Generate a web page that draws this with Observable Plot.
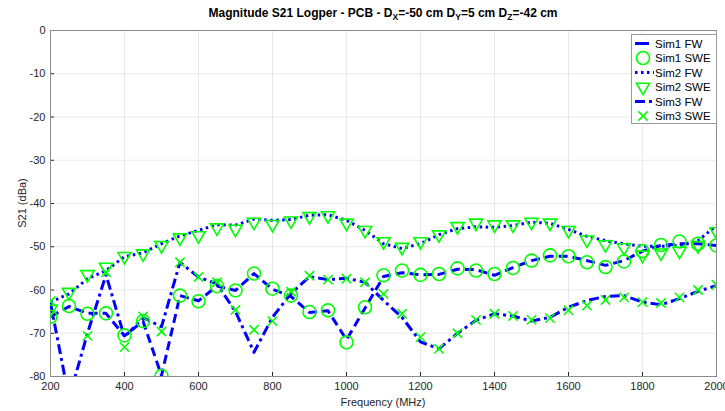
<!DOCTYPE html>
<html>
<head>
<meta charset="utf-8">
<script src="https://cdn.jsdelivr.net/npm/d3@7"></script>
<script src="https://cdn.jsdelivr.net/npm/@observablehq/plot@0.6"></script>
<style>
  body { margin: 0; background: #fff; font-family: "Liberation Sans", Arial, sans-serif; }
  #wrap { position: relative; width: 725px; height: 411px; overflow: hidden; }
  #title { height: 24px; line-height: 26px; padding-left: 41px; text-align: center;
           font-weight: bold; font-size: 12px; color: #000; white-space: nowrap; }
  #title sub { font-size: 8.5px; vertical-align: -3px; line-height: 0; }
  #legend { position: absolute; left: 631px; top: 34px; }
  .axlabel { position: absolute; font-size: 11px; color: #262626; white-space: nowrap; }
  #xlabel { left: 283px; width: 200px; text-align: center; top: 396px; }
  #ylabel { left: 22px; top: 203px; transform: translate(-50%, -50%) rotate(-90deg); }
</style>
</head>
<body>
<div id="wrap">
  <div id="title">Magnitude S21 Logper - PCB - D<sub>X</sub>=-50 cm D<sub>Y</sub>=5 cm D<sub>Z</sub>=-42 cm</div>
  <div id="chart"></div>
  <div class="axlabel" id="xlabel">Frequency (MHz)</div>
  <div class="axlabel" id="ylabel">S21 (dBa)</div>
  <svg id="legend" width="86" height="90"></svg>
</div>
<script>
// Frequency sweep (MHz)
const freq = [200, 250, 300, 350, 400, 450, 500, 550, 600, 650, 700, 750, 800, 850, 900, 950,
  1000, 1050, 1100, 1150, 1200, 1250, 1300, 1350, 1400, 1450, 1500, 1550, 1600, 1650, 1700,
  1750, 1800, 1850, 1900, 1950, 2000];

// S21 (dBa) — full-wave (FW) and SWE results for the three simulations
const sim1FW = [-66.2, -63.8, -65.4, -65.4, -70.6, -67.2, -79.8, -61.3, -62.5, -59.1, -60.1, -56.2,
  -59.8, -61.5, -65.2, -64.8, -71.5, -64.2, -56.9, -56.0, -56.5, -56.4, -55.2, -55.3, -56.6, -54.8,
  -53.2, -52.2, -52.2, -53.2, -54.3, -53.2, -51.0, -49.7, -49.3, -49.3, -49.7];
const sim1SWE = [-66.2, -63.7, -65.5, -65.4, -70.5, -67.2, -79.9, -61.3, -62.6, -59.1, -60.1, -56.2,
  -59.7, -61.3, -65.1, -64.7, -72.1, -64.0, -56.6, -55.5, -56.5, -56.3, -55.0, -55.5, -56.3, -54.9,
  -53.2, -52.0, -52.2, -53.6, -54.7, -53.4, -51.0, -49.6, -48.8, -49.3, -49.7];
const sim2FW = [-62.8, -60.9, -57.4, -55.5, -52.3, -51.4, -49.3, -47.5, -46.2, -44.9, -45.0, -43.6,
  -43.9, -43.7, -42.7, -42.6, -43.9, -46.2, -49.3, -50.4, -49.3, -47.2, -45.8, -45.4, -45.5, -45.1,
  -44.3, -44.6, -46.0, -47.6, -48.6, -49.3, -49.9, -49.9, -49.7, -48.6, -45.1];
const sim2SWE = [-64.4, -60.5, -56.4, -54.7, -52.2, -51.6, -49.7, -47.9, -47.4, -45.6, -45.9, -44.3,
  -44.8, -44.0, -43.0, -42.8, -44.5, -46.2, -48.8, -50.1, -48.8, -47.2, -45.3, -44.5, -44.9, -44.9,
  -44.3, -44.5, -46.2, -48.4, -49.5, -50.2, -51.9, -51.4, -51.0, -49.7, -46.5];
const sim3FW = [-63.0, -85.0, -70.0, -56.5, -70.9, -66.4, -68.5, -53.6, -57.0, -58.6, -65.0, -74.4,
  -66.3, -60.8, -56.9, -57.6, -57.3, -58.2, -62.4, -66.3, -72.0, -73.6, -70.0, -67.0, -65.5, -66.0,
  -67.2, -66.3, -64.0, -62.4, -61.5, -61.3, -62.8, -63.4, -62.0, -60.3, -59.0];
const sim3SWE = [-62.6, null, -70.6, -55.9, -73.2, -66.1, -69.6, -53.6, -57.0, -58.2, -64.6, -69.2,
  -67.2, -60.4, -56.7, -57.6, -57.4, -58.2, -60.9, -65.5, -70.9, -73.6, -70.0, -66.9, -65.5, -66.0,
  -66.9, -66.5, -64.7, -63.6, -62.3, -61.7, -62.8, -63.0, -61.7, -60.0, -58.8];

// Axis ticks
const xTicks = [200, 400, 600, 800, 1000, 1200, 1400, 1600, 1800, 2000];
const yTicks = [0, -10, -20, -30, -40, -50, -60, -70, -80];

const seriesNames = ["Sim1 FW", "Sim1 SWE", "Sim2 FW", "Sim2 SWE", "Sim3 FW", "Sim3 SWE"];

const BLUE = "#0000ff";
const GREEN = "#00ff00";

const rows = (vals) => freq.map((f, i) => ({f, v: vals[i]})).filter(d => d.v != null);

const lineStyle = {
  "Sim1 FW": "9,5",
  "Sim2 FW": "2.5,3.5",
  "Sim3 FW": "10,4,3,4"
};

const fwLine = (vals, name) => Plot.line(rows(vals), {
  x: "f", y: "v", stroke: BLUE, strokeWidth: 3,
  strokeDasharray: lineStyle[name], strokeLinecap: "butt", strokeLinejoin: "round", clip: true
});

const markerStyle = {
  "Sim1 SWE": {symbol: "circle", r: 6.5, rotate: 0},
  "Sim2 SWE": {symbol: "triangle", r: 4.9, rotate: 180},
  "Sim3 SWE": {symbol: "times", r: 4.3, rotate: 0}
};

const sweDots = (vals, name) => Plot.dot(rows(vals), {
  x: "f", y: "v", stroke: GREEN, strokeWidth: 1.6, fill: "none",
  symbol: markerStyle[name].symbol, r: markerStyle[name].r, rotate: markerStyle[name].rotate, clip: true
});

const plain = d => String(d);

const chart = Plot.plot({
  width: 725,
  height: 387,
  marginTop: 6,
  marginRight: 9,
  marginBottom: 35,
  marginLeft: 50,
  style: {fontFamily: "Liberation Sans, Arial, sans-serif", fontSize: "11px", color: "#262626", background: "#fff"},
  x: {domain: [200, 2000], ticks: xTicks, tickSize: -4, tickPadding: 10, grid: true,
      tickFormat: plain, label: null},
  y: {domain: [-80, 0], ticks: yTicks, tickSize: -4, tickPadding: 9, grid: true,
      tickFormat: plain, label: null},
  marks: [
    Plot.frame({stroke: "#8c8c8c"}),
    fwLine(sim2FW, "Sim2 FW"),
    fwLine(sim1FW, "Sim1 FW"),
    fwLine(sim3FW, "Sim3 FW"),
    sweDots(sim1SWE, "Sim1 SWE"),
    sweDots(sim2SWE, "Sim2 SWE"),
    sweDots(sim3SWE, "Sim3 SWE")
  ]
});
document.getElementById("chart").appendChild(chart);

// Legend box
const lg = d3.select("#legend");
lg.append("rect").attr("x", 0.5).attr("y", 0.5).attr("width", 85).attr("height", 89)
  .attr("fill", "#fff").attr("stroke", "#9a9a9a");
const rowY = [9.5, 24, 38.5, 53, 67.5, 82];
seriesNames.forEach((name, i) => {
  const y = rowY[i];
  if (lineStyle[name]) {
    lg.append("line").attr("x1", 4).attr("x2", name === "Sim1 FW" ? 18 : 23).attr("y1", y).attr("y2", y)
      .attr("stroke", BLUE).attr("stroke-width", 3).attr("stroke-dasharray", name === "Sim1 FW" ? null : lineStyle[name]);
  } else {
    const m = markerStyle[name];
    const sym = {circle: d3.symbolCircle, triangle: d3.symbolTriangle, times: d3.symbolTimes}[m.symbol];
    lg.append("path").attr("d", d3.symbol(sym, m.r * m.r * Math.PI)())
      .attr("transform", `translate(12,${y}) rotate(${m.rotate})`)
      .attr("fill", "none").attr("stroke", GREEN).attr("stroke-width", 1.6);
  }
  lg.append("text").attr("x", 24).attr("y", y).attr("dy", "0.35em")
    .attr("font-size", "11.5px").attr("fill", "#000").text(name);
});
</script>
</body>
</html>
